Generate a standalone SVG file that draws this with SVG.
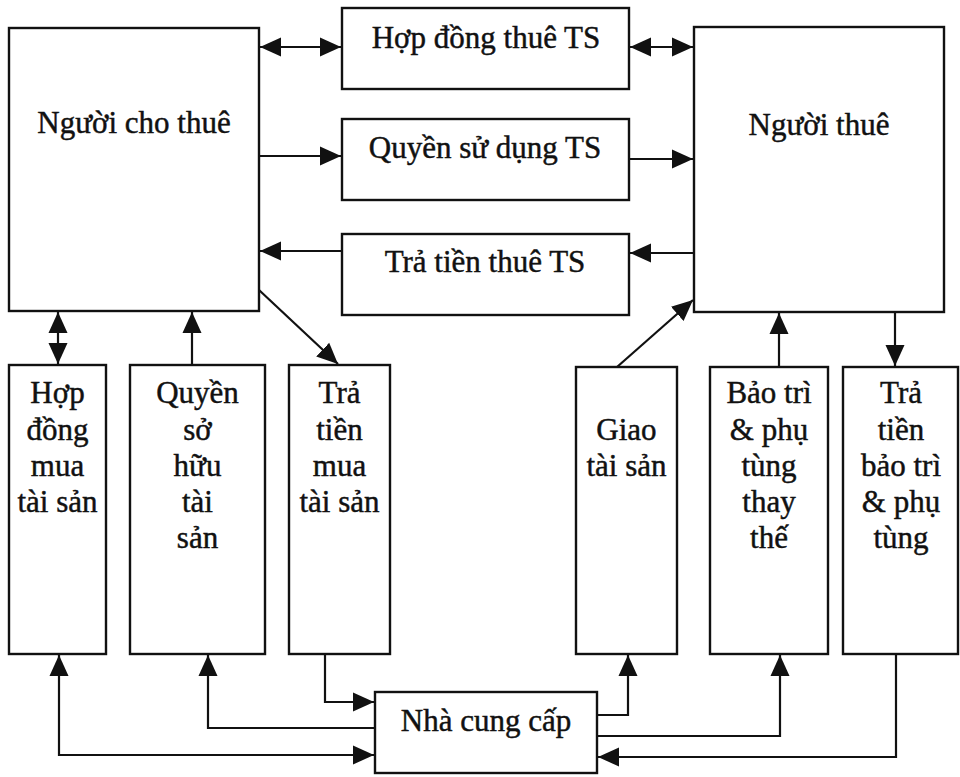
<svg xmlns="http://www.w3.org/2000/svg" width="960" height="777" viewBox="0 0 960 777">
<style>
.box{fill:#fff;stroke:#111;stroke-width:2.4}
.t{font-family:"Liberation Serif","Times New Roman",serif;font-size:31px;fill:#111;stroke:#111;stroke-width:0.45;text-anchor:middle}
.c{fill:none;stroke:#111;stroke-width:2.2}
</style>
<defs>
<marker id="ah" markerUnits="userSpaceOnUse" markerWidth="22" markerHeight="20" viewBox="0 0 22 20" refX="21" refY="10" orient="auto-start-reverse">
<path d="M0,0.5 L21,10 L0,19.5 z" fill="#111"/>
</marker>
</defs>
<rect width="960" height="777" fill="#fff"/>
<g id="nguoi-cho-thue"><rect class="box" x="9" y="28" width="250" height="283"/><text class="t" x="134" y="133">Người cho thuê</text></g>
<g id="nguoi-thue"><rect class="box" x="694" y="27" width="250" height="285"/><text class="t" x="819" y="135">Người thuê</text></g>
<g id="hop-dong-thue"><rect class="box" x="342" y="8" width="287" height="81"/><text class="t" x="486" y="48">Hợp đồng thuê TS</text></g>
<g id="quyen-su-dung"><rect class="box" x="342" y="119" width="287" height="81"/><text class="t" x="485" y="158">Quyền sử dụng TS</text></g>
<g id="tra-tien-thue"><rect class="box" x="342" y="234" width="287" height="81"/><text class="t" x="485" y="272">Trả tiền thuê TS</text></g>
<g id="hop-dong-mua"><rect class="box" x="9" y="365" width="97" height="289"/><text class="t" x="57.5" y="403">Hợp<tspan x="57.5" y="440">đồng</tspan><tspan x="57.5" y="476">mua</tspan><tspan x="57.5" y="512">tài sản</tspan></text></g>
<g id="quyen-so-huu"><rect class="box" x="130" y="365" width="135" height="289"/><text class="t" x="197.5" y="403">Quyền<tspan x="197.5" y="440">sở</tspan><tspan x="197.5" y="476">hữu</tspan><tspan x="197.5" y="512">tài</tspan><tspan x="197.5" y="548">sản</tspan></text></g>
<g id="tra-tien-mua"><rect class="box" x="289" y="365" width="101" height="289"/><text class="t" x="339.5" y="403">Trả<tspan x="339.5" y="440">tiền</tspan><tspan x="339.5" y="476">mua</tspan><tspan x="339.5" y="512">tài sản</tspan></text></g>
<g id="giao-tai-san"><rect class="box" x="576" y="367" width="101" height="287"/><text class="t" x="626.5" y="440">Giao<tspan x="626.5" y="476">tài sản</tspan></text></g>
<g id="bao-tri"><rect class="box" x="710" y="367" width="118" height="287"/><text class="t" x="769" y="403">Bảo trì<tspan x="769" y="440">&amp; phụ</tspan><tspan x="769" y="476">tùng</tspan><tspan x="769" y="512">thay</tspan><tspan x="769" y="548">thế</tspan></text></g>
<g id="tra-tien-bao-tri"><rect class="box" x="843" y="367" width="115" height="287"/><text class="t" x="901" y="403">Trả<tspan x="901" y="440">tiền</tspan><tspan x="901" y="476">bảo trì</tspan><tspan x="901" y="512">&amp; phụ</tspan><tspan x="901" y="548">tùng</tspan></text></g>
<g id="nha-cung-cap"><rect class="box" x="375" y="692" width="222" height="81"/><text class="t" x="486" y="731">Nhà cung cấp</text></g>
<g id="connectors">
<line class="c" x1="260" y1="47" x2="341" y2="47" marker-start="url(#ah)" marker-end="url(#ah)"/>
<line class="c" x1="260" y1="156" x2="341" y2="156" marker-end="url(#ah)"/>
<line class="c" x1="341" y1="251" x2="260" y2="251" marker-end="url(#ah)"/>
<line class="c" x1="630" y1="47" x2="693" y2="47" marker-start="url(#ah)" marker-end="url(#ah)"/>
<line class="c" x1="630" y1="159" x2="693" y2="159" marker-end="url(#ah)"/>
<line class="c" x1="693" y1="253" x2="630" y2="253" marker-end="url(#ah)"/>
<line class="c" x1="58" y1="312" x2="58" y2="364" marker-start="url(#ah)" marker-end="url(#ah)"/>
<line class="c" x1="192" y1="365" x2="192" y2="312" marker-end="url(#ah)"/>
<line class="c" x1="259" y1="290" x2="338" y2="364" marker-end="url(#ah)"/>
<line class="c" x1="617" y1="367" x2="693" y2="300" marker-end="url(#ah)"/>
<line class="c" x1="779" y1="367" x2="779" y2="313" marker-end="url(#ah)"/>
<line class="c" x1="895" y1="312" x2="895" y2="366" marker-end="url(#ah)"/>
<polyline class="c" points="325,654 325,702 374,702" marker-end="url(#ah)"/>
<polyline class="c" points="375,728 208,728 208,655" marker-end="url(#ah)"/>
<polyline class="c" points="59,655 59,755 374,755" marker-start="url(#ah)" marker-end="url(#ah)"/>
<polyline class="c" points="597,715 628,715 628,655" marker-end="url(#ah)"/>
<polyline class="c" points="597,736 780,736 780,655" marker-end="url(#ah)"/>
<polyline class="c" points="896,654 896,757 598,757" marker-end="url(#ah)"/>
</g>
</svg>
